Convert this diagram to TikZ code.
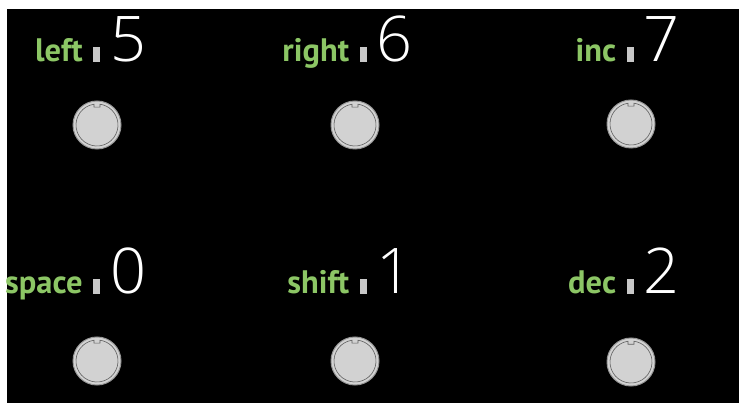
\documentclass[tikz,border=0pt]{standalone}
\usepackage{fontspec}
\setmainfont{Open Sans}
\newfontfamily\labelfont{PT Sans}
\IfFontExistsTF{Open Sans Light}{\newfontfamily\digitfont{Open Sans Light}}{\newfontfamily\digitfont{Open Sans}}
\definecolor{keygreen}{RGB}{140,198,101}
\definecolor{bargray}{RGB}{200,200,200}
\definecolor{knobfill}{RGB}{210,210,210}
\definecolor{knobedge}{RGB}{150,150,150}
\definecolor{knobline}{RGB}{95,95,95}
\tikzset{
  x=1pt, y=-1pt,
  keylabel/.style={anchor=base east, inner sep=0pt, text=keygreen, font=\fontsize{32.5}{33}\selectfont\labelfont\bfseries},
  keybar/.style={anchor=south, fill=bargray, draw=none, minimum width=7pt, minimum height=15pt, inner sep=0pt},
  keydigit/.style={anchor=base west, inner sep=0pt, text=white, font=\fontsize{63}{63}\selectfont\digitfont},
  knob/.style={circle, fill=knobfill, draw=knobedge, line width=1pt, minimum size=48pt, inner sep=0pt},
  knobring/.style={draw=knobline, line width=0.6pt}
}
\newcommand{\keycell}[7]{%
  \node[keybar] (#1bar) at (#4,#5) {};
  \node[keylabel] (#1lab) at ([xshift=-10pt]#1bar.south west) {#2};
  \node[keydigit] (#1dig) at ([xshift=10pt]#1bar.south east) {#3};
  \node[knob] (#1knob) at (#6,#7) {};
  \begin{scope}[shift={(#1knob.center)}]
    \draw[knobring] (98.2:21pt) arc[start angle=98.2, end angle=441.8, radius=21pt] -- (3pt,17.8pt) -- (-3pt,17.8pt) -- cycle;
  \end{scope}
}
\begin{document}
\begin{tikzpicture}
  \fill[white] (0,0) rectangle (739,403);
  \fill[black] (7,9) rectangle (739,403);
  \useasboundingbox (0,0) rectangle (739,403);
  \keycell{left}{left}{5}{96.5}{62}{97}{125}
  \keycell{right}{right}{6}{363}{62}{355}{125}
  \keycell{inc}{inc}{7}{630}{62}{631}{124}
  \keycell{space}{space}{0}{96.5}{294}{97}{361}
  \keycell{shift}{shift}{1}{363}{294}{355}{361}
  \keycell{dec}{dec}{2}{630}{294}{631}{362}
\end{tikzpicture}
\end{document}
